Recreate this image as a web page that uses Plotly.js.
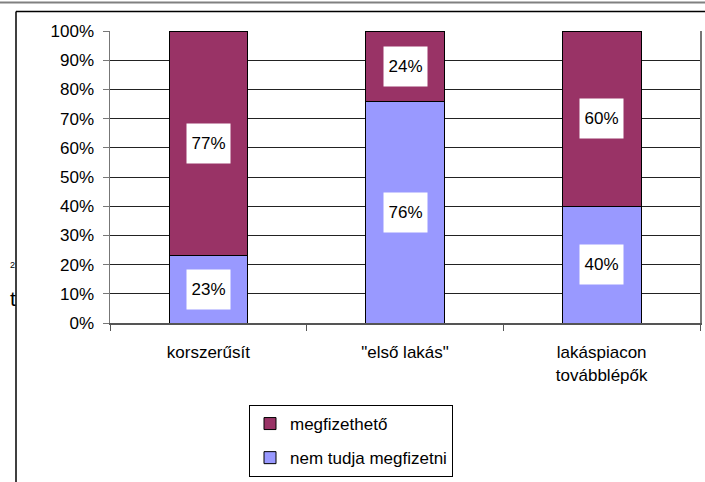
<!DOCTYPE html>
<html>
<head>
<meta charset="utf-8">
<script src="https://cdn.plot.ly/plotly-3.0.1.min.js"></script>
<style>html,body{margin:0;padding:0;background:#fff;}#chart{width:705px;height:482px;}</style>
</head>
<body>
<div id="chart"></div>
<script>
const categories = ['korszerűsít', '"első lakás"', 'lakáspiacon<br>továbblépők'];
const nemTudja = [23, 76, 40];
const megfizetheto = [77, 24, 60];
const seriesNames = ['nem tudja megfizetni', 'megfizethető'];
const yTicks = [0, 10, 20, 30, 40, 50, 60, 70, 80, 90, 100];

const FONT = 'Liberation Sans, Arial, sans-serif';
const FS = 17;

const traces = [
  {type: 'bar', x: categories, y: nemTudja, name: seriesNames[0], legendgroup: 'a', legendrank: 2,
   marker: {color: '#9999FF', line: {color: '#000', width: 1}}, width: 0.4, hoverinfo: 'none'},
  {type: 'bar', x: categories, y: megfizetheto, name: seriesNames[1], legendgroup: 'b', legendrank: 1,
   marker: {color: '#993366', line: {color: '#000', width: 1}}, width: 0.4, hoverinfo: 'none'}
];

const annotations = [];
categories.forEach((c, i) => {
  annotations.push({x: c, y: nemTudja[i] / 2, xref: 'x', yref: 'y', text: nemTudja[i] + '%', showarrow: false,
    bgcolor: '#fff', width: 41, height: 37, font: {size: FS, color: '#000', family: FONT}});
  annotations.push({x: c, y: nemTudja[i] + megfizetheto[i] / 2, xref: 'x', yref: 'y', text: megfizetheto[i] + '%', showarrow: false,
    bgcolor: '#fff', width: 41, height: 37, font: {size: FS, color: '#000', family: FONT}});
});

const px = v => (v - 110) / 590;
const py = v => (323 - v) / 292;

// clipped fragments at far left
annotations.push({xref: 'paper', yref: 'paper', x: px(12), y: py(265), text: '2', showarrow: false,
  font: {size: 9, color: '#000', family: FONT}, xanchor: 'center', yanchor: 'middle'});
annotations.push({xref: 'paper', yref: 'paper', x: px(13), y: py(298), text: 't', showarrow: false,
  font: {size: 21, color: '#000', family: FONT}, xanchor: 'center', yanchor: 'middle'});

const shapes = [
  {type: 'rect', xref: 'paper', yref: 'paper', x0: px(17), x1: px(22), y0: py(250), y1: py(320), fillcolor: '#fff', line: {width: 0}, layer: 'above'},
  {type: 'line', xref: 'paper', yref: 'paper', x0: px(0), x1: px(710), y0: py(2.5), y1: py(2.5), line: {color: '#808080', width: 2}},
  {type: 'line', xref: 'paper', yref: 'paper', x0: px(16), x1: px(710), y0: py(11.5), y1: py(11.5), line: {color: '#000', width: 1.5}},
  {type: 'line', xref: 'paper', yref: 'paper', x0: px(16), x1: px(16), y0: py(11.5), y1: py(490), line: {color: '#000', width: 1.5}}
];

const layout = {
  width: 705, height: 482,
  margin: {l: 110, r: 5, t: 31, b: 159},
  paper_bgcolor: '#fff', plot_bgcolor: '#fff',
  barmode: 'stack',
  showlegend: true,
  font: {family: FONT, size: FS, color: '#000'},
  xaxis: {
    showline: true, linecolor: '#555', linewidth: 2,
    ticks: 'outside', tickson: 'boundaries', ticklen: 6, tickcolor: '#555',
    showgrid: false, tickfont: {size: FS, color: '#000'}, ticklabelstandoff: 13,
    fixedrange: true
  },
  yaxis: {
    range: [0, 100], tickvals: yTicks, ticktext: yTicks.map(v => v + '%'),
    showline: true, linecolor: '#777', linewidth: 1.5, mirror: true,
    ticks: 'outside', ticklen: 6, tickcolor: '#777',
    showgrid: true, gridcolor: '#222', gridwidth: 1, zeroline: false,
    tickfont: {size: FS, color: '#000'}, ticklabelstandoff: 5, fixedrange: true
  },
  legend: {
    x: px(249), y: py(405), xanchor: 'left', yanchor: 'top',
    bordercolor: '#000', borderwidth: 1, bgcolor: '#fff',
    traceorder: 'grouped', tracegroupgap: 9,
    font: {size: FS, family: FONT, color: '#000'}
  },
  annotations: annotations,
  shapes: shapes
};

Plotly.newPlot('chart', traces, layout, {displayModeBar: false, staticPlot: true});
</script>
</body>
</html>
